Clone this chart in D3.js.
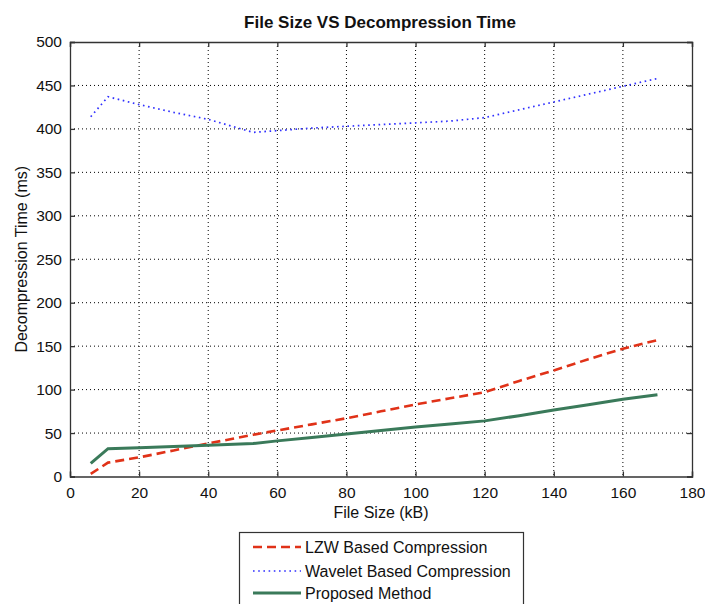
<!DOCTYPE html>
<html>
<head>
<meta charset="utf-8">
<script src="https://cdn.jsdelivr.net/npm/d3@7"></script>
<style>
  html, body { margin: 0; padding: 0; background: #fff; }
  svg { display: block; font-family: "Liberation Sans", Arial, sans-serif; }
</style>
</head>
<body>
<svg id="chart" width="705" height="604"></svg>
<script>
// ---- data ----
const fileSizes   = [6, 11, 20, 30, 40, 53, 60, 70, 80, 90, 100, 110, 120, 130, 140, 150, 160, 170];
const lzwTimes     = [3, 16, 22, 30, 38, 48, 53, 60, 67, 75, 83, 90, 97, 110, 122, 135, 147, 157];
const waveletTimes = [414, 437, 428, 419, 411, 396, 398, 401, 403, 405, 407, 409, 413, 422, 431, 440, 449, 458];
const proposedTimes= [15, 32, 33, 34.5, 36, 38, 41, 45, 49, 53, 57, 60.5, 64, 70, 76.5, 82.5, 89, 94];
const xTicks = [0, 20, 40, 60, 80, 100, 120, 140, 160, 180];
const yTicks = [0, 50, 100, 150, 200, 250, 300, 350, 400, 450, 500];
const seriesNames = ["LZW Based Compression", "Wavelet Based Compression", "Proposed Method"];

const svg = d3.select("#chart");
const L = 70, R = 692, T = 42, B = 476.5;
const x = d3.scaleLinear().domain([0, 180]).range([L, R]);
const y = d3.scaleLinear().domain([0, 500]).range([B, T]);

// grid
const grid = svg.append("g");
grid.selectAll("line.gx").data(xTicks.slice(1, -1)).enter().append("line")
  .attr("x1", d => x(d)).attr("x2", d => x(d)).attr("y1", T).attr("y2", B)
  .attr("stroke", "#000").attr("stroke-width", 1).attr("stroke-dasharray", "1,3");
grid.selectAll("line.gy").data(yTicks.slice(1, -1)).enter().append("line")
  .attr("y1", d => y(d)).attr("y2", d => y(d)).attr("x1", L).attr("x2", R)
  .attr("stroke", "#000").attr("stroke-width", 1).attr("stroke-dasharray", "1,3");

// axes (inward ticks, boxed)
const tickFont = "15.5px";
const axB = svg.append("g").attr("transform", `translate(0,${B})`)
  .call(d3.axisBottom(x).tickValues(xTicks).tickSize(-5).tickPadding(10).tickFormat(d3.format("d")));
const axT = svg.append("g").attr("transform", `translate(0,${T})`)
  .call(d3.axisTop(x).tickValues(xTicks).tickSize(-5).tickFormat(""));
const axL = svg.append("g").attr("transform", `translate(${L},0)`)
  .call(d3.axisLeft(y).tickValues(yTicks).tickSize(-5).tickPadding(8).tickFormat(d3.format("d")));
const axR = svg.append("g").attr("transform", `translate(${R},0)`)
  .call(d3.axisRight(y).tickValues(yTicks).tickSize(-5).tickFormat(""));
[axB, axT, axL, axR].forEach(a => {
  a.select(".domain").attr("stroke", "#333").attr("stroke-width", 1.3);
  a.selectAll(".tick line").attr("stroke", "#333").attr("stroke-width", 1.3);
  a.selectAll(".tick text").attr("fill", "#111").style("font-size", tickFont).style("font-family", "'Liberation Sans', Arial, sans-serif");
});

// lines
const line = vals => d3.line().x((d, i) => x(fileSizes[i])).y(d => y(d))(vals);
const styles = [
  { vals: lzwTimes, color: "#e03218", width: 2.6, dash: "9,5" },
  { vals: waveletTimes, color: "#2f2fff", width: 1.7, dash: "1.6,3.6" },
  { vals: proposedTimes, color: "#3a7a5a", width: 3, dash: null }
];
styles.forEach(s => {
  svg.append("path").attr("d", line(s.vals)).attr("fill", "none")
    .attr("stroke", s.color).attr("stroke-width", s.width)
    .attr("stroke-dasharray", s.dash);
});

// title and labels
svg.append("text").attr("x", 380).attr("y", 28).attr("text-anchor", "middle")
  .style("font-size", "17px").style("font-weight", "bold").attr("fill", "#111")
  .text("File Size VS Decompression Time");
svg.append("text").attr("x", 381).attr("y", 518).attr("text-anchor", "middle")
  .style("font-size", "16px").attr("fill", "#111").text("File Size (kB)");
svg.append("text").attr("transform", `translate(27,${(T + B) / 2}) rotate(-90)`)
  .attr("text-anchor", "middle").style("font-size", "16px").attr("fill", "#111")
  .text("Decompression Time (ms)");

// legend
const lg = svg.append("g");
lg.append("rect").attr("x", 239.5).attr("y", 532.5).attr("width", 284).attr("height", 80)
  .attr("fill", "#fff").attr("stroke", "#333").attr("stroke-width", 1.2);
const rowsY = [547, 571, 593];
styles.forEach((s, i) => {
  lg.append("line").attr("x1", 253).attr("x2", 301).attr("y1", rowsY[i]).attr("y2", rowsY[i])
    .attr("stroke", s.color).attr("stroke-width", s.width).attr("stroke-dasharray", s.dash);
  lg.append("text").attr("x", 305).attr("y", rowsY[i] + 6)
    .style("font-size", "16px").attr("fill", "#111").text(seriesNames[i]);
});
</script>
</body>
</html>
